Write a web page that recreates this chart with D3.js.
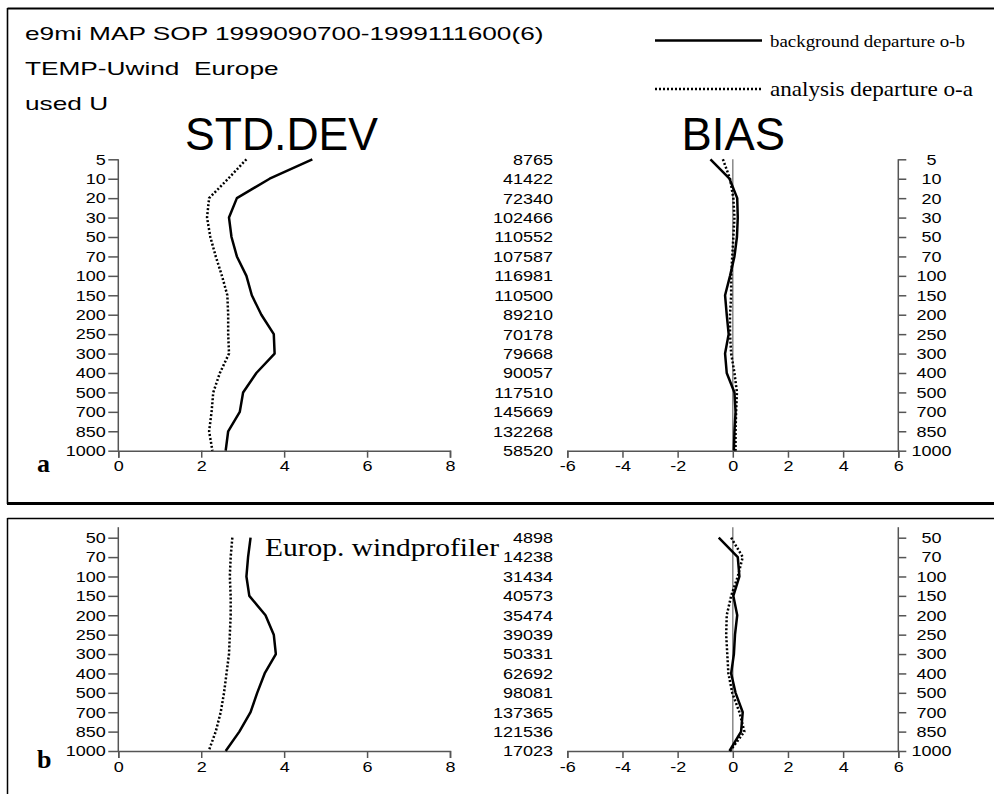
<!DOCTYPE html>
<html>
<head>
<meta charset="utf-8">
<script src="https://cdn.jsdelivr.net/npm/d3@7/dist/d3.min.js"></script>
<style>
  html, body { margin: 0; padding: 0; background: #fff; }
  svg { display: block; }
  text { white-space: pre; }
  .sans { font-family: "Liberation Sans", Arial, sans-serif; }
  .serif { font-family: "Liberation Serif", "Times New Roman", serif; }
</style>
</head>
<body>
<svg id="chart" width="994" height="794"></svg>
<script>
// Pressure levels (hPa), observation counts and departure statistics (m/s)
const levelsA = ["5","10","20","30","50","70","100","150","200","250","300","400","500","700","850","1000"];
const countsA = ["8765","41422","72340","102466","110552","107587","116981","110500","89210","70178","79668","90057","117510","145669","132268","58520"];
const stdObA  = [4.68, 3.65, 2.86, 2.67, 2.73, 2.86, 3.09, 3.22, 3.45, 3.75, 3.77, 3.33, 3.01, 2.93, 2.65, 2.59];
const stdOaA  = [3.09, 2.65, 2.19, 2.14, 2.22, 2.35, 2.50, 2.63, 2.65, 2.65, 2.67, 2.45, 2.29, 2.25, 2.19, 2.27];
const biasObA = [-0.81, -0.12, 0.16, 0.18, 0.15, 0.06, -0.10, -0.28, -0.22, -0.15, -0.28, -0.22, 0.06, 0.10, 0.06, 0.04];
const biasOaA = [-0.36, -0.10, 0.02, 0.06, 0.02, -0.02, -0.06, -0.06, -0.10, -0.10, -0.06, 0.06, 0.15, 0.12, 0.10, 0.10];

const levelsB = ["50","70","100","150","200","250","300","400","500","700","850","1000"];
const countsB = ["4898","14238","31434","40573","35474","39039","50331","62692","98081","137365","121536","17023"];
const stdObB  = [3.19, 3.13, 3.09, 3.16, 3.55, 3.75, 3.80, 3.53, 3.35, 3.19, 2.92, 2.59];
const stdOaB  = [2.75, 2.71, 2.69, 2.71, 2.71, 2.69, 2.67, 2.61, 2.55, 2.47, 2.35, 2.18];
const biasObB = [-0.51, 0.18, 0.24, 0.02, 0.16, 0.08, 0.04, -0.06, 0.10, 0.36, 0.30, -0.12];
const biasOaB = [-0.06, 0.36, 0.18, -0.06, -0.22, -0.24, -0.20, -0.16, -0.02, 0.24, 0.42, -0.10];

const stdTicks  = [0, 2, 4, 6, 8];
const biasTicks = [-6, -4, -2, 0, 2, 4, 6];

const titleLines = ["e9mi MAP SOP 1999090700-1999111600(6)", "TEMP-Uwind  Europe", "used U"];
const legendLabels = ["background departure o-b", "analysis departure o-a"];

const svg = d3.select("#chart");
const AXIS = "#555";
const DOT = "2,2";

// widen a text element horizontally by a factor
function stretch(sel, factor) {
  sel.each(function () {
    const w = this.getComputedTextLength();
    d3.select(this).attr("textLength", w * factor).attr("lengthAdjust", "spacingAndGlyphs");
  });
}

// frames
svg.append("path").attr("d", "M7.5,8.5 H994").attr("stroke", "#000").attr("stroke-width", 2).attr("fill", "none");
svg.append("path").attr("d", "M7.5,8 V504").attr("stroke", "#000").attr("stroke-width", 1.6).attr("fill", "none");
svg.append("path").attr("d", "M7,503.5 H994").attr("stroke", "#000").attr("stroke-width", 3).attr("fill", "none");
svg.append("path").attr("d", "M7.5,518.5 H994 M7.5,518 V794").attr("stroke", "#000").attr("stroke-width", 1.5).attr("fill", "none");

// title block
const titles = svg.selectAll("text.title").data(titleLines).join("text")
  .attr("class", "title sans")
  .attr("x", 25).attr("y", (d, i) => 39.5 + i * 35)
  .attr("font-size", 19).attr("fill", "#000")
  .text(d => d);
stretch(titles, 1.38);

svg.append("text").attr("class", "sans").attr("x", 185).attr("y", 150)
  .attr("font-size", 47).text("STD.DEV")
  .attr("textLength", 193).attr("lengthAdjust", "spacingAndGlyphs");
svg.append("text").attr("class", "sans").attr("x", 681.5).attr("y", 150)
  .attr("font-size", 47).text("BIAS")
  .attr("textLength", 103.5).attr("lengthAdjust", "spacingAndGlyphs");

// legend
const legend = svg.append("g");
legend.append("line").attr("x1", 655).attr("x2", 762).attr("y1", 40.5).attr("y2", 40.5)
  .attr("stroke", "#000").attr("stroke-width", 2.5);
legend.append("line").attr("x1", 655).attr("x2", 762).attr("y1", 89).attr("y2", 89)
  .attr("stroke", "#000").attr("stroke-width", 2.5).attr("stroke-dasharray", DOT);
legend.append("text").attr("class", "serif").attr("x", 770).attr("y", 47)
  .attr("font-size", 16).text(legendLabels[0])
  .attr("textLength", 195).attr("lengthAdjust", "spacingAndGlyphs");
legend.append("text").attr("class", "serif").attr("x", 770).attr("y", 95.5)
  .attr("font-size", 21).text(legendLabels[1])
  .attr("textLength", 203).attr("lengthAdjust", "spacingAndGlyphs");

function drawPanel(p) {
  const g = svg.append("g");
  const y = d3.scalePoint().domain(p.levels).range([p.top, p.bottom]);
  const xs = d3.scaleLinear().domain([0, 8]).range([118.3, 450]);
  const xb = d3.scaleLinear().domain([-6, 6]).range([567.3, 898.3]);
  const axisTop = p.top - p.ext;

  // STD.DEV left axis
  const yl = g.append("g").attr("transform", `translate(${xs(0)},0)`)
    .call(d3.axisLeft(y).tickSize(10).tickPadding(2.5));
  yl.select(".domain").attr("d", `M0,${axisTop}V${p.bottom}`);
  // STD.DEV x axis
  const xa = g.append("g").attr("transform", `translate(0,${p.bottom})`)
    .call(d3.axisBottom(xs).tickValues(stdTicks).tickFormat(d3.format("d")).tickSize(7).tickPadding(3));

  // counts column
  g.selectAll("text.count").data(p.counts).join("text")
    .attr("class", "count sans")
    .attr("x", 553).attr("y", (d, i) => y(p.levels[i])).attr("dy", "0.36em")
    .attr("text-anchor", "end").attr("font-size", 15).text(d => d);

  // BIAS x axis and zero line
  const xba = g.append("g").attr("transform", `translate(0,${p.bottom})`)
    .call(d3.axisBottom(xb).tickValues(biasTicks).tickFormat(d => d < 0 ? "-" + Math.abs(d) : String(d)).tickSize(7).tickPadding(3));
  g.append("line").attr("x1", xb(0)).attr("x2", xb(0)).attr("y1", axisTop).attr("y2", p.bottom)
    .attr("stroke", "#888").attr("stroke-width", 1.5);

  // BIAS right axis
  const yr = g.append("g").attr("transform", `translate(${xb(6)},0)`)
    .call(d3.axisRight(y).tickSize(8).tickFormat(() => ""));
  yr.select(".domain").attr("d", `M0,${axisTop}V${p.bottom}`);
  g.selectAll("text.rlab").data(p.levels).join("text")
    .attr("class", "rlab sans")
    .attr("x", 931.5).attr("y", d => y(d)).attr("dy", "0.36em")
    .attr("text-anchor", "middle").attr("font-size", 15).text(d => d);

  [yl, xa, xba, yr].forEach(a => {
    a.selectAll("path, line").attr("stroke", AXIS).attr("stroke-width", 1.5);
    a.selectAll("text").attr("class", "sans").attr("font-size", 15).attr("fill", "#000");
  });

  // profiles
  const lineStd = vals => d3.line().x((d, i) => xs(d)).y((d, i) => y(p.levels[i]))(vals);
  const lineBias = vals => d3.line().x((d, i) => xb(d)).y((d, i) => y(p.levels[i]))(vals);
  const draw = (d, dotted) => g.append("path").attr("d", d).attr("fill", "none")
    .attr("stroke", "#000").attr("stroke-width", 2.5).attr("stroke-linejoin", "round")
    .attr("stroke-dasharray", dotted ? DOT : null);
  draw(lineStd(p.stdOa), true);
  draw(lineStd(p.stdOb), false);
  draw(lineBias(p.biasOa), true);
  draw(lineBias(p.biasOb), false);

  // panel letter
  g.append("text").attr("class", "serif").attr("x", 37).attr("y", p.letterY)
    .attr("font-size", 26).attr("font-weight", "bold").text(p.letter);

  // widen the numeric labels
  stretch(g.selectAll("text.count, text.rlab"), 1.2);
  stretch(yl.selectAll("text"), 1.2);
  stretch(xa.selectAll("text"), 1.2);
  stretch(xba.selectAll("text"), 1.2);
}

drawPanel({ levels: levelsA, counts: countsA, stdOb: stdObA, stdOa: stdOaA, biasOb: biasObA, biasOa: biasOaA,
  top: 159.3, bottom: 450.7, ext: 0, letter: "a", letterY: 472 });
drawPanel({ levels: levelsB, counts: countsB, stdOb: stdObB, stdOa: stdOaB, biasOb: biasObB, biasOa: biasOaB,
  top: 537.7, bottom: 751, ext: 10.5, letter: "b", letterY: 768 });

// station network label
svg.append("text").attr("class", "serif").attr("x", 265).attr("y", 556)
  .attr("font-size", 26).text("Europ. windprofiler")
  .attr("textLength", 234).attr("lengthAdjust", "spacingAndGlyphs");
</script>
</body>
</html>
